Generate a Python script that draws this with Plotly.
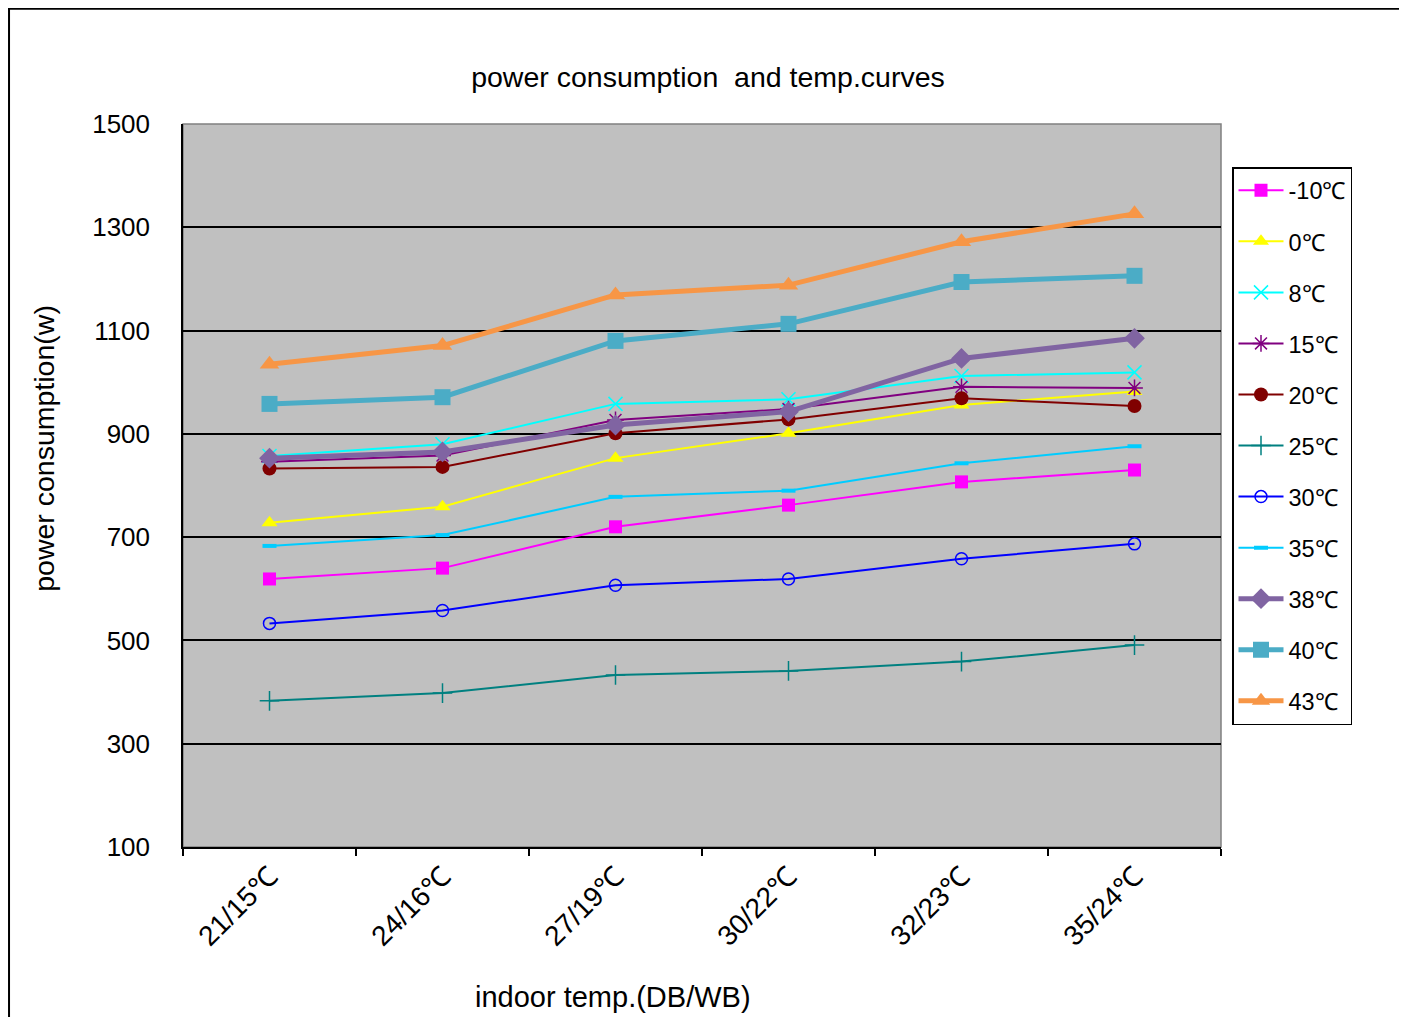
"""Power consumption vs indoor temperature curves (one line per outdoor temp)."""

import plotly.graph_objects as go

# ---------------------------------------------------------------------------
# Data
# ---------------------------------------------------------------------------

categories = ["21/15℃", "24/16℃", "27/19℃", "30/22℃", "32/23℃", "35/24℃"]

series_names = ["-10℃", "0℃", "8℃", "15℃", "20℃", "25℃",
                "30℃", "35℃", "38℃", "40℃", "43℃"]

power_m10 = [619, 640, 720, 762, 807, 830]
power_0 = [728, 759, 853, 901, 956, 982]
power_8 = [857, 880, 958, 967, 1012, 1019]
power_15 = [846, 858, 927, 948, 991, 989]
power_20 = [833, 836, 901, 928, 969, 954]
power_25 = [383, 398, 433, 441, 459, 491]
power_30 = [533, 558, 607, 619, 658, 687]
power_35 = [683, 704, 778, 790, 843, 876]
power_38 = [853, 865, 917, 943, 1046, 1085]
power_40 = [958, 971, 1080, 1113, 1194, 1206]
power_43 = [1035, 1071, 1169, 1188, 1272, 1326]

series_values = [power_m10, power_0, power_8, power_15, power_20, power_25,
                 power_30, power_35, power_38, power_40, power_43]

# style per series: colour, line width, marker symbol, marker size, marker line width
STYLES = [
    ("#FF00FF", 2, "square", 13, 0),
    ("#FFFF00", 2, "triangle-up", 14, 0),
    ("#00FFFF", 2, "x-thin", 14, 1.5),
    ("#800080", 2, "asterisk", 14, 1.5),
    ("#800000", 2, "circle", 14, 0),
    ("#008080", 2, "cross-thin", 14, 1.5),
    ("#0000FF", 2, "circle-open", 12, 1.5),
    ("#00CCFF", 2, "line-ew", 10, 4),
    ("#8064A2", 5, "diamond", 16, 0),
    ("#4BACC6", 5, "square", 16, 0),
    ("#F79646", 5, "triangle-up", 17, 0),
]

FONT = "Liberation Sans, Arial, sans-serif"

fig = go.Figure()
for name, vals, (color, lw, symbol, size, mlw) in zip(series_names, series_values, STYLES):
    fig.add_trace(go.Scatter(
        x=categories,
        y=vals,
        name=name,
        legendgroup=name,
        mode="lines+markers",
        line=dict(color=color, width=lw),
        marker=dict(symbol=symbol, size=size, color=color,
                    line=dict(color=color, width=mlw)),
    ))

# the page body adds an 8px offset, so margins are 8px smaller on the left/top
fig.update_layout(
    width=1407,
    height=1017,
    margin=dict(l=175, r=194, t=116, b=178),
    paper_bgcolor="white",
    plot_bgcolor="#C0C0C0",
    font=dict(family=FONT, color="black", size=26),
    title=dict(text="power consumption  and temp.curves", x=0.4975, y=0.932,
               xanchor="center", yanchor="middle", font=dict(size=28.5)),
    showlegend=True,
    legend=dict(
        x=1.0106, y=0.9405, xanchor="left", yanchor="top",
        bgcolor="white", bordercolor="black", borderwidth=1.5,
        font=dict(size=23.5), tracegroupgap=17.5,
        itemwidth=45,
    ),
)

fig.update_xaxes(
    type="category",
    range=[-0.5, len(categories) - 0.5],
    showgrid=False,
    showline=True, linecolor="black", linewidth=1.5,
    ticks="outside", tickson="boundaries", ticklen=7,
    tickcolor="black", tickwidth=1.5,
    tickangle=-45,
    tickfont=dict(size=28),
)
fig.update_yaxes(
    range=[100, 1500], tick0=100, dtick=200,
    showgrid=True, gridcolor="black", gridwidth=1.5,
    zeroline=False,
    showline=True, linecolor="black", linewidth=1.5,
    ticks="", ticklabelstandoff=26,
    tickfont=dict(size=26),
)

# grey frame on top/right of the plot area
fig.add_shape(type="rect", xref="paper", yref="paper", x0=0, x1=1, y0=0, y1=1,
              line=dict(color="#808080", width=1.5), layer="between")
# outer chart border
fig.add_shape(type="rect", xref="paper", yref="paper",
              x0=-0.1676, x1=1.1743, y0=-0.26, y1=1.1594,
              line=dict(color="black", width=2))

fig.add_annotation(text="power consumption(w)", xref="paper", yref="paper",
                   x=-0.134, y=0.552, textangle=-90, showarrow=False,
                   xanchor="center", yanchor="middle", font=dict(size=28.5))
fig.add_annotation(text="indoor temp.(DB/WB)", xref="paper", yref="paper",
                   x=0.414, y=-0.2075, showarrow=False,
                   xanchor="center", yanchor="middle", font=dict(size=29))

fig.write_html("out.html")
